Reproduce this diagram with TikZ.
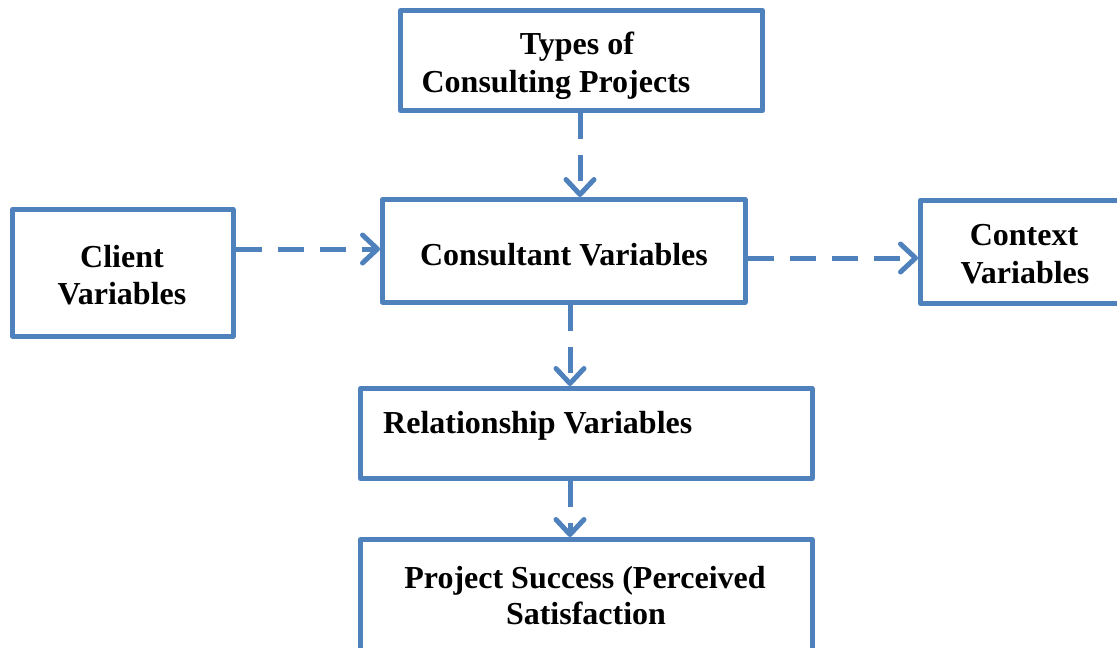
\documentclass[tikz,border=0pt]{standalone}
\usepackage{fontspec}
\setmainfont{Liberation Serif}
\usetikzlibrary{arrows.meta}
\definecolor{boxblue}{RGB}{79,129,189}
\begin{document}
\begin{tikzpicture}[x=1pt,y=-1pt,
  box/.style={draw=boxblue, line width=5pt, line join=round, inner sep=0pt,
              rectangle},
  lbl/.style={anchor=base, inner sep=0pt,
              font=\fontsize{32}{37}\selectfont\bfseries},
  flow/.style={draw=boxblue, line width=5pt, dash pattern=on 26pt off 16pt,
               -{Straight Barb[length=15pt,width=28pt,round]}}]
\useasboundingbox (0,0) rectangle (1117,648);
\clip (0,0) rectangle (1117,648);

% boxes
\node[box, minimum width=362pt, minimum height=100pt] (types) at (581.5,60.5) {};
\node[box, minimum width=220.5pt, minimum height=126.5pt] (client) at (122.75,272.75) {};
\node[box, minimum width=362.5pt, minimum height=102.5pt] (cons) at (563.75,250.75) {};
\node[box, minimum width=209.5pt, minimum height=103.5pt] (ctx) at (1025.25,251.75) {};
\node[box, minimum width=451.5pt, minimum height=90pt] (rel) at (586.25,433.5) {};
\node[box, minimum width=451.5pt, minimum height=140pt] (proj) at (586.25,609.5) {};

% labels
\node[lbl] (t1) at (577,54) {Types of};
\node[lbl] (t2) at (556,92) {Consulting Projects};
\node[lbl] (c1) at (122,267) {Client};
\node[lbl] (c2) at (122,304) {Variables};
\node[lbl] (k1) at (564,265) {Consultant Variables};
\node[lbl] (x1) at (1024,245) {Context};
\node[lbl] (x2) at (1025,283) {Variables};
\node[lbl, anchor=base west] (r1) at (383,433) {Relationship Variables};
\node[lbl] (p1) at (585,588) {Project Success (Perceived};
\node[lbl] (p2) at (586,624) {Satisfaction};

% connector positions
\coordinate (va) at (580,0);
\coordinate (vb) at (570,0);
\coordinate (ha) at (0,249);
\coordinate (hb) at (0,258);

% connectors
\draw[flow] (types.south -| va) -- (cons.north -| va);
\draw[flow] (client.east |- ha) -- (cons.west |- ha);
\draw[flow] (cons.east |- hb) -- (ctx.west |- hb);
\draw[flow] (cons.south -| vb) -- (rel.north -| vb);
\draw[flow] (rel.south -| vb) -- (proj.north -| vb);
\end{tikzpicture}
\end{document}
